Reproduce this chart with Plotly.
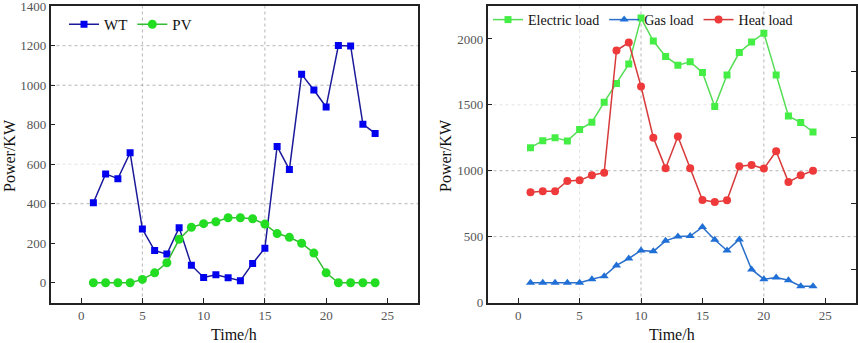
import plotly.graph_objects as go

hours = list(range(1, 25))
wt = [405, 551, 527, 658, 272, 163, 145, 279, 89, 27, 40, 25, 10, 98, 175, 690,
      573, 1055, 976, 890, 1201, 1199, 803, 756]
pv = [0, 0, 0, 0, 17, 50, 101, 220, 281, 299, 309, 329, 329, 324, 297, 249,
      230, 200, 150, 50, 0, 0, 0, 0]
electric = [1175, 1228, 1251, 1226, 1312, 1368, 1520, 1661, 1809, 2158, 1984, 1867,
            1801, 1826, 1745, 1487, 1727, 1897, 1976, 2044, 1727, 1416, 1365, 1294]
gas = [150, 150, 150, 150, 150, 177, 200, 281, 334, 395, 388, 468, 501, 504, 572,
       476, 395, 479, 251, 177, 190, 169, 124, 124]
heat = [836, 844, 844, 922, 927, 965, 985, 1912, 1973, 1639, 1251, 1018, 1259, 1018,
        778, 762, 775, 1034, 1044, 1016, 1148, 914, 965, 1000]

x_ticks = [0, 5, 10, 15, 20, 25]
left_y_ticks = [0, 200, 400, 600, 800, 1000, 1200, 1400]
right_y_ticks = [0, 500, 1000, 1500, 2000]
right_minor_ticks = [250, 750, 1250, 1750]

FONT = "'Liberation Serif', 'Times New Roman', serif"
W, H = 858, 343

fig = go.Figure()

fig.add_trace(go.Scatter(x=hours, y=wt, name="WT", mode="lines+markers",
                         line=dict(color="#1a1a9a", width=1.5),
                         marker=dict(symbol="square", size=7, color="#0000ee"),
                         xaxis="x", yaxis="y", legend="legend"))
fig.add_trace(go.Scatter(x=hours, y=pv, name="PV", mode="lines+markers",
                         line=dict(color="#33bb33", width=1.5),
                         marker=dict(symbol="circle", size=9, color="#22dd22"),
                         xaxis="x", yaxis="y", legend="legend"))

fig.add_trace(go.Scatter(x=hours, y=electric, name="Electric load", mode="lines+markers",
                         line=dict(color="#55dd55", width=1.5),
                         marker=dict(symbol="square", size=7, color="#44ee44"),
                         xaxis="x2", yaxis="y2", legend="legend2"))
fig.add_trace(go.Scatter(x=hours, y=gas, name="Gas load", mode="lines+markers",
                         line=dict(color="#2a6fc9", width=1.5),
                         marker=dict(symbol="triangle-up", size=8, color="#1f6fd6"),
                         xaxis="x2", yaxis="y2", legend="legend2"))
fig.add_trace(go.Scatter(x=hours, y=heat, name="Heat load", mode="lines+markers",
                         line=dict(color="#d83a3a", width=1.5),
                         marker=dict(symbol="circle", size=8, color="#ee3a3a"),
                         xaxis="x2", yaxis="y2", legend="legend2"))
# invisible trace so the right-side minor tick axis is drawn
fig.add_trace(go.Scatter(x=[None], y=[None], xaxis="x2", yaxis="y3",
                         showlegend=False, hoverinfo="skip"))

ydom = [1 - 302.5 / H, 1 - 6 / H]
axis_common = dict(showline=True, linecolor="#222", linewidth=1.5, mirror=True,
                   ticks="inside", ticklen=5, tickcolor="#222", tickwidth=1,
                   showgrid=False, zeroline=False, ticklabeloverflow="allow",
                   automargin=False,
                   tickfont=dict(family=FONT, size=13, color="#555"))

grid_major = "#b4b4b4"
grid_faint = "#e2e2e2"

fig.update_layout(
    width=W, height=H,
    margin=dict(l=0, r=0, t=0, b=0),
    paper_bgcolor="white", plot_bgcolor="white",
    font=dict(family=FONT),
    xaxis=dict(domain=[50.5 / W, 418 / W], range=[-2.5, 27.5], tickvals=x_ticks, anchor="y",
               **axis_common),
    yaxis=dict(domain=ydom, range=[-100, 1401], tickvals=left_y_ticks, anchor="x",
               **axis_common),
    xaxis2=dict(domain=[487.5 / W, 856 / W], range=[-2.5, 27.5], tickvals=x_ticks, anchor="y2",
                **axis_common),
    yaxis2=dict(domain=ydom, range=[0, 2250], tickvals=right_y_ticks, anchor="x2",
                **axis_common),
    yaxis3=dict(overlaying="y2", side="right", anchor="x2", range=[0, 2250],
                tickvals=right_minor_ticks, ticks="inside", ticklen=5, tickcolor="#222",
                showticklabels=False, showline=False, showgrid=False, zeroline=False,
                automargin=False),
    legend=dict(orientation="h", x=64 / W, y=1 - 8 / H, xanchor="left", yanchor="top",
                bgcolor="rgba(0,0,0,0)", font=dict(family=FONT, size=15, color="#111"),
                tracegroupgap=0, itemwidth=30),
    legend2=dict(orientation="h", x=488 / W, y=1 - 4 / H, xanchor="left", yanchor="top",
                 bgcolor="rgba(0,0,0,0)", font=dict(family=FONT, size=14, color="#111"),
                 itemwidth=30),
    showlegend=True,
)

# gridlines as seen in the reference (dotted)
def vgrid(xref, yref, xv, y0, y1, color):
    fig.add_shape(type="line", xref=xref, yref=yref, x0=xv, x1=xv, y0=y0, y1=y1,
                  line=dict(color=color, width=1, dash="dot"), layer="below")

def hgrid(xref, yref, yv, color):
    fig.add_shape(type="line", xref=xref, yref=yref, x0=-2.5, x1=27.5, y0=yv, y1=yv,
                  line=dict(color=color, width=1, dash="dot"), layer="below")

for xv in [5, 15]:
    vgrid("x", "y", xv, -100, 1400, grid_major)
for yv in [400, 1000, 1200]:
    hgrid("x", "y", yv, grid_major)
hgrid("x", "y", 600, grid_faint)

for xv in [10, 20]:
    vgrid("x2", "y2", xv, 0, 2250, grid_major)
vgrid("x2", "y2", 5, 0, 2250, grid_faint)
for yv in [500, 1000]:
    hgrid("x2", "y2", yv, grid_major)
hgrid("x2", "y2", 1500, grid_faint)

# axis titles
title_font = dict(family=FONT, size=16, color="#111")
for cx in [(50.5 + 418) / 2 / W, (487.5 + 856) / 2 / W]:
    fig.add_annotation(text="Time/h", xref="paper", yref="paper", x=cx, y=1 - 334 / H,
                       showarrow=False, font=title_font, xanchor="center", yanchor="middle")
for cx in [9 / W, 445 / W]:
    fig.add_annotation(text="Power/KW", xref="paper", yref="paper", x=cx, y=1 - 156 / H,
                       showarrow=False, font=title_font, textangle=-90,
                       xanchor="center", yanchor="middle")

fig.write_html("out.html", config={"displayModeBar": False},
               post_script="document.body.style.margin='0';")
